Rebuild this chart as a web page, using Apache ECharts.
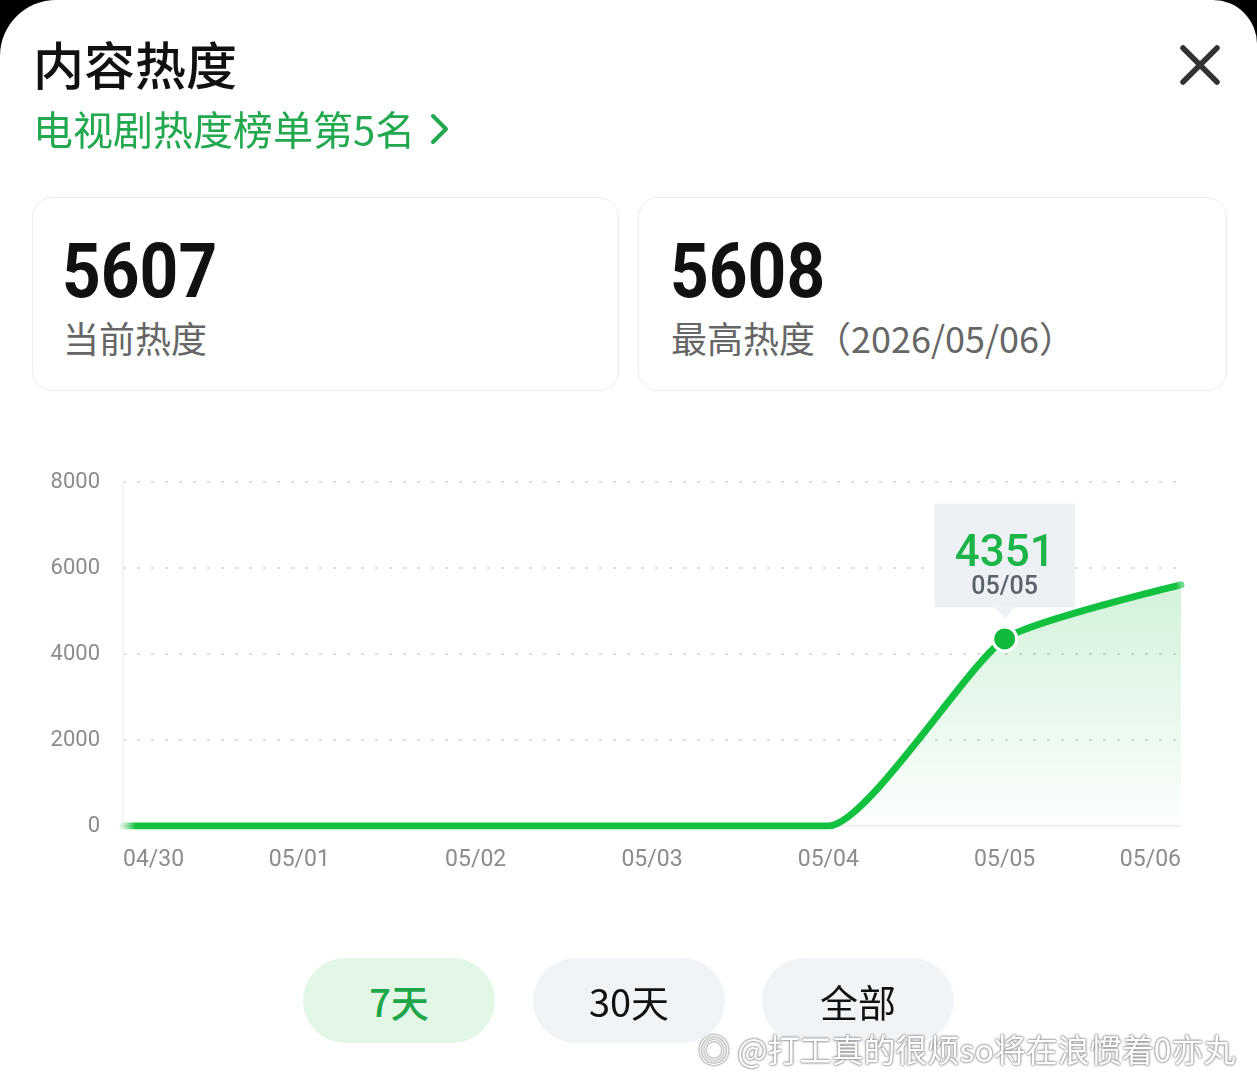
<!DOCTYPE html>
<html>
<head>
<meta charset="utf-8">
<script src="https://cdn.jsdelivr.net/npm/echarts@6/dist/echarts.min.js"></script>
<style>
  html,body{margin:0;padding:0;width:1257px;height:1080px;overflow:hidden;background:#000;}
  #sheet{position:absolute;left:0;top:0;width:1257px;height:1080px;background:#fff;border-radius:56px 44px 0 0;}
  #chart{position:absolute;left:0;top:0;width:1257px;height:1080px;z-index:1;}
  .t{position:absolute;z-index:2;white-space:nowrap;font-family:"Noto Sans CJK SC","Noto Sans",sans-serif;}
  .card{position:absolute;z-index:2;top:197px;height:194px;border:1.5px solid #ececec;border-radius:20px;background:#fff;box-sizing:border-box;}
  .num{position:absolute;font-family:Roboto,"Noto Sans",sans-serif;font-weight:700;font-size:76px;line-height:76px;color:#111;transform:scaleX(0.89);transform-origin:left center;}
  .lbl{position:absolute;font-family:"Noto Sans CJK SC",sans-serif;font-size:36px;line-height:40px;color:#666;}
  .pill{position:absolute;z-index:2;top:958px;height:85px;width:192px;border-radius:43px;display:flex;align-items:center;justify-content:center;font-family:"Noto Sans CJK SC",sans-serif;font-size:38px;}
</style>
</head>
<body>
<div id="sheet"></div>
<div id="chart"></div>

<div class="t" style="left:33px;top:33px;font-size:51px;line-height:60px;color:#111;font-weight:500;">内容热度</div>
<div class="t" style="left:33px;top:103px;font-size:40px;line-height:50px;color:#22a84e;">电视剧热度榜单第5名</div>
<svg style="position:absolute;left:428px;top:112px;z-index:2" width="24" height="34"><polyline points="5,4 18,17 5,30" fill="none" stroke="#22a84e" stroke-width="4" stroke-linecap="round" stroke-linejoin="round"/></svg>
<svg style="position:absolute;left:1178px;top:43px;z-index:2" width="44" height="44"><line x1="5" y1="5" x2="39" y2="39" stroke="#333" stroke-width="5.5" stroke-linecap="round"/><line x1="39" y1="5" x2="5" y2="39" stroke="#333" stroke-width="5.5" stroke-linecap="round"/></svg>

<div class="card" style="left:32px;width:587px;">
  <div class="num" style="left:29px;top:35px;">5607</div>
  <div class="lbl" style="left:30px;top:119px;">当前热度</div>
</div>
<div class="card" style="left:638px;width:589px;">
  <div class="num" style="left:31px;top:35px;">5608</div>
  <div class="lbl" style="left:32px;top:119px;">最高热度（2026/05/06）</div>
</div>

<div class="pill" style="left:303px;background:#e2f7e6;color:#20a54b;font-weight:500;">7天</div>
<div class="pill" style="left:533px;background:#f1f4f7;color:#111;">30天</div>
<div class="pill" style="left:762px;background:#f1f4f7;color:#111;">全部</div>

<div class="t" style="left:698px;top:1025px;font-size:32px;line-height:46px;color:#fff;text-shadow:0 0 2px #888,0 0 2px #888,0 0 3px #aaa;">◎ @打工真的很烦so将在浪惯着0亦丸</div>

<script>
const dates = ["04/30","05/01","05/02","05/03","05/04","05/05","05/06"];
const heat = [0, 0, 0, 0, 0, 4351, 5607];
const yTicks = [0, 2000, 4000, 6000, 8000];
const highlightIndex = 5;

const green = '#12c13f';
const seriesData = heat.map((v, i) => {
  if (i !== highlightIndex) return v;
  return {
    value: v,
    symbol: 'circle',
    symbolSize: 24,
    itemStyle: {color: '#10b83b', borderColor: '#ffffff', borderWidth: 3},
    label: {
      show: true,
      position: 'top',
      distance: 18,
      formatter: '{a|' + v + '}\n{b|' + dates[i] + '}',
      backgroundColor: '#edf1f6',
      padding: [30, 0, 10, 0],
      width: 141,
      align: 'center',
      rich: {
        a: {fontFamily: 'Roboto', fontSize: 44, lineHeight: 44, color: '#1db548', fontWeight: 500, align: 'center'},
        b: {fontFamily: 'Roboto', fontSize: 25, lineHeight: 20, color: '#5b626b', fontWeight: 500, align: 'center'}
      }
    }
  };
});

const chart = echarts.init(document.getElementById('chart'), null, {renderer: 'canvas'});
chart.setOption({
  animation: false,
  grid: {left: 123, right: 76, top: 482, bottom: 254},
  xAxis: {
    type: 'category',
    data: dates,
    boundaryGap: false,
    axisLine: {show: true, lineStyle: {color: '#f0f0f0', width: 2}},
    axisTick: {show: false},
    axisLabel: {
      color: '#8c8c8c', fontFamily: 'Roboto', fontSize: 23, margin: 23,
      alignMinLabel: 'left', alignMaxLabel: 'right'
    },
    splitLine: {show: false}
  },
  yAxis: {
    type: 'value',
    min: yTicks[0], max: yTicks[yTicks.length - 1], interval: 2000,
    axisLine: {show: true, lineStyle: {color: '#f2f2f2', width: 1.5}},
    axisTick: {show: false},
    axisLabel: {color: '#8c8c8c', fontFamily: 'Roboto', fontSize: 22, margin: 23, formatter: v => String(v)},
    splitLine: {show: true, lineStyle: {color: '#dedede', width: 2, type: [3, 11]}}
  },
  series: [{
    type: 'line',
    data: seriesData,
    symbol: 'none',
    smooth: 0.18,
    lineStyle: {
      width: 7,
      color: {type: 'linear', x: 123, y: 0, x2: 1181, y2: 0, global: true,
        colorStops: [{offset: 0, color: 'rgba(18,193,63,0.15)'}, {offset: 0.012, color: green}, {offset: 0.995, color: green}, {offset: 1, color: 'rgba(18,193,63,0.6)'}]},
      cap: 'round', join: 'round'
    },
    areaStyle: {
      color: {type: 'linear', x: 0, y: 0, x2: 0, y2: 1,
        colorStops: [{offset: 0, color: 'rgba(30,190,70,0.28)'}, {offset: 1, color: 'rgba(30,190,70,0.02)'}]}
    },
    markPoint: {
      silent: true,
      symbol: 'triangle',
      symbolSize: [20, 11],
      symbolRotate: 180,
      symbolOffset: [0, -26],
      itemStyle: {color: '#edf1f6'},
      label: {show: false},
      data: [{coord: [dates[highlightIndex], heat[highlightIndex]]}]
    },
    z: 3
  }]
});
</script>
</body>
</html>
